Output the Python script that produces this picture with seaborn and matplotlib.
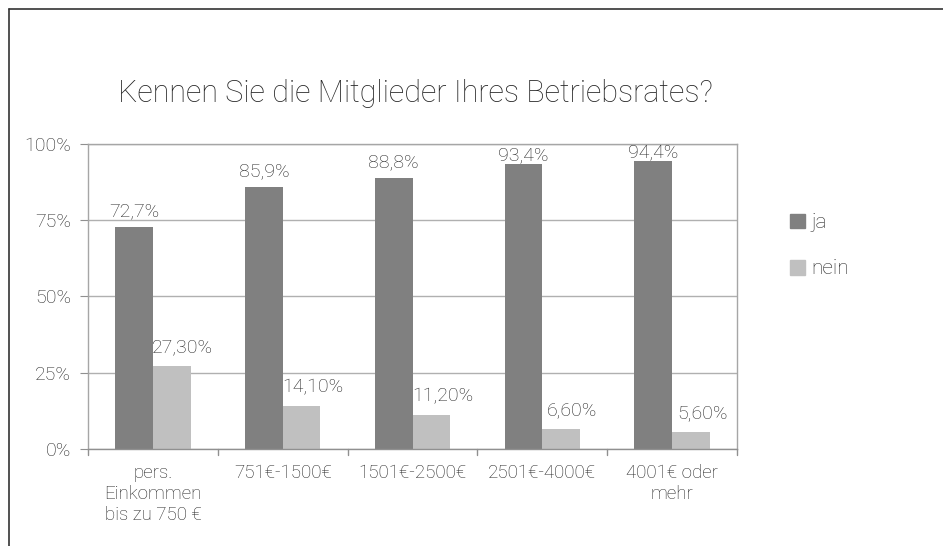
import matplotlib
matplotlib.use("Agg")
import matplotlib.pyplot as plt
import seaborn as sns
import pandas as pd
from matplotlib.lines import Line2D

# ---- data ----
categories = ["pers.\nEinkommen\nbis zu 750 €", "751€-1500€", "1501€-2500€",
              "2501€-4000€", "4001€ oder\nmehr"]
ja_values = [72.7, 85.9, 88.8, 93.4, 94.4]
nein_values = [27.3, 14.1, 11.2, 6.6, 5.6]
series_names = ["ja", "nein"]
y_ticks = [0, 25, 50, 75, 100]

df = pd.DataFrame({
    "Kategorie": categories * 2,
    "Antwort": [series_names[0]] * len(categories) + [series_names[1]] * len(categories),
    "Wert": ja_values + nein_values,
})

sns.set_style("white")
plt.rcParams["font.family"] = ["Roboto", "DejaVu Sans"]
plt.rcParams["font.weight"] = "light"
TXT = "#262626"
COLORS = ["#808080", "#c0c0c0"]

fig = plt.figure(figsize=(9.43, 5.46), dpi=100)
ax = fig.add_axes([0.0933, 0.1777, 0.6883, 0.5586])

sns.barplot(data=df, x="Kategorie", y="Wert", hue="Antwort", order=categories,
            hue_order=series_names, palette=COLORS,
            width=0.58, saturation=1, linewidth=0, ax=ax, legend=False)

ax.set_ylim(0, 100)
ax.set_xlim(-0.5, len(categories) - 0.5)
ax.set_yticks(y_ticks)
ax.set_yticklabels([f"{t}%" for t in y_ticks], fontsize=14, color=TXT)
ax.set_xticks(range(len(categories)))
ax.set_xticklabels(categories, fontsize=13.5, color=TXT, linespacing=1.2)
ax.set_xlabel("")
ax.set_ylabel("")
ax.yaxis.grid(True, color="#b0b0b0", linewidth=1)
ax.set_axisbelow(True)
for s in ax.spines.values():
    s.set_visible(True)
    s.set_color("#a6a6a6")
    s.set_linewidth(1)
ax.spines["bottom"].set_color("#909090")
ax.tick_params(axis="y", length=6, color="#909090", pad=6, left=True)
ax.tick_params(axis="x", length=0, pad=11)
# boundary ticks between the categories
for b in [i - 0.5 for i in range(len(categories) + 1)]:
    ax.plot([b, b], [0, -2], color="#909090", lw=1, clip_on=False)

# value labels
for i, v in enumerate(ja_values):
    off = 5 if v < 90 else 0
    ax.annotate(f"{v:.1f}%".replace(".", ","), (i - 0.145, v), xytext=(0, off),
                textcoords="offset points", ha="center", va="bottom",
                fontsize=14, color=TXT)
for i, v in enumerate(nein_values):
    ax.annotate(f"{v:.2f}%".replace(".", ","), (i + 0.145, v), xytext=(8, 7),
                textcoords="offset points", ha="center", va="bottom",
                fontsize=14, color=TXT)

# legend on the right
handles = [plt.Rectangle((0, 0), 1, 1, color=c) for c in COLORS]
ax.legend(handles, series_names, loc="center left", bbox_to_anchor=(1.082, 0.666),
          frameon=False, fontsize=15, handlelength=0.72, handleheight=0.72,
          handletextpad=0.3, labelspacing=1.3, labelcolor=TXT, borderpad=0,
          borderaxespad=0)

fig.text(118 / 943, 1 - 93 / 546, "Kennen Sie die Mitglieder Ihres Betriebsrates?",
         fontsize=22, color=TXT, va="center", ha="left")

# outer frame (left and top edges only visible)
fig.add_artist(Line2D([9 / 943, 9 / 943], [0, 1 - 9 / 546], color="#333333", lw=1.2))
fig.add_artist(Line2D([9 / 943, 1], [1 - 9 / 546, 1 - 9 / 546], color="#333333", lw=1.2))

fig.savefig("out.png", dpi=100)
